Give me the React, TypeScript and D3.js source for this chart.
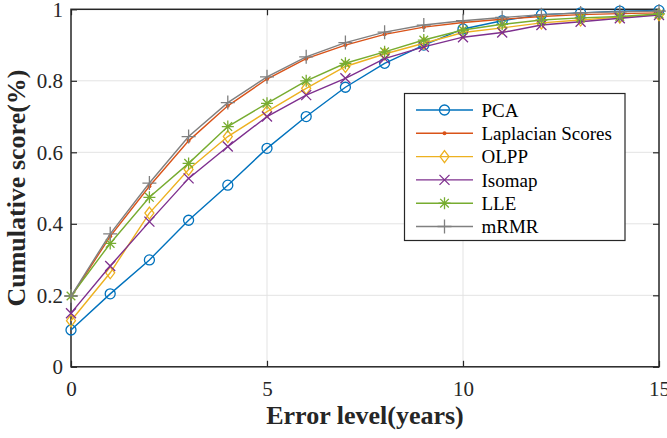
import React, { useEffect, useRef } from 'react';
import * as d3 from 'd3';

// error level (years) on the x axis
const errorLevels = [0, 1, 2, 3, 4, 5, 6, 7, 8, 9, 10, 11, 12, 13, 14, 15];

// cumulative score per method
const pcaScores = [0.103, 0.204, 0.299, 0.41, 0.508, 0.611, 0.7, 0.782, 0.849, 0.9, 0.945, 0.968, 0.985, 0.99, 0.995, 0.997];
const laplacianScores = [0.195, 0.365, 0.505, 0.632, 0.73, 0.805, 0.862, 0.9, 0.93, 0.95, 0.963, 0.972, 0.98, 0.985, 0.988, 0.99];
const olppScores = [0.129, 0.263, 0.43, 0.552, 0.644, 0.714, 0.779, 0.84, 0.875, 0.905, 0.935, 0.948, 0.962, 0.97, 0.978, 0.985];
const isomapScores = [0.15, 0.282, 0.406, 0.527, 0.616, 0.7, 0.76, 0.807, 0.862, 0.895, 0.922, 0.935, 0.956, 0.965, 0.975, 0.984];
const lleScores = [0.198, 0.345, 0.474, 0.569, 0.672, 0.737, 0.8, 0.849, 0.881, 0.914, 0.942, 0.958, 0.97, 0.976, 0.98, 0.987];
const mrmrScores = [0.198, 0.372, 0.514, 0.644, 0.739, 0.811, 0.867, 0.907, 0.936, 0.956, 0.968, 0.977, 0.985, 0.99, 0.993, 0.995];

const xTicks = [0, 5, 10, 15];
const yTicks = [0, 0.2, 0.4, 0.6, 0.8, 1];

const series = [
	{ name: 'PCA', values: pcaScores, color: '#0072BD', marker: 'circle' },
	{ name: 'Laplacian Scores', values: laplacianScores, color: '#D95319', marker: 'dot' },
	{ name: 'OLPP', values: olppScores, color: '#EDB120', marker: 'diamond' },
	{ name: 'Isomap', values: isomapScores, color: '#7E2F8E', marker: 'x' },
	{ name: 'LLE', values: lleScores, color: '#77AC30', marker: 'star' },
	{ name: 'mRMR', values: mrmrScores, color: '#808080', marker: 'plus' }
];

const FONT = '"Liberation Serif", "Times New Roman", serif';

function drawMarker(g: any, type: string, color: string) {
	if (type === 'circle') {
		g.append('circle').attr('r', 5).attr('fill', 'none').attr('stroke', color).attr('stroke-width', 1.3);
	} else if (type === 'dot') {
		g.append('circle').attr('r', 2).attr('fill', color);
	} else {
		var paths: any = {
			diamond: 'M0,-6L4.5,0L0,6L-4.5,0Z',
			x: 'M-5,-5L5,5M-5,5L5,-5',
			star: 'M-6,0H6M0,-6V6M-4.3,-4.3L4.3,4.3M-4.3,4.3L4.3,-4.3',
			plus: 'M-7,0H7M0,-7V7'
		};
		g.append('path').attr('d', paths[type]).attr('fill', 'none').attr('stroke', color).attr('stroke-width', 1.3);
	}
}

export default function App() {
	const ref = useRef<SVGSVGElement>(null);

	useEffect(() => {
		document.body.style.margin = '0';
		var width = 667;
		var height = 438;
		var margin = { top: 9.3, left: 71, right: 8, bottom: 71.2 };
		var innerW = width - margin.left - margin.right;
		var innerH = height - margin.top - margin.bottom;

		var svg = d3.select(ref.current);
		svg.selectAll('*').remove();

		var x = d3.scaleLinear().domain([0, 15]).range([0, innerW]);
		var y = d3.scaleLinear().domain([0, 1]).range([innerH, 0]);

		var g = svg.append('g').attr('transform', `translate(${margin.left},${margin.top})`);

		// grid
		g.selectAll('.gx')
			.data(xTicks.slice(1, -1))
			.enter()
			.append('line')
			.attr('x1', d => x(d)).attr('x2', d => x(d))
			.attr('y1', 0).attr('y2', innerH)
			.attr('stroke', '#e3e3e3').attr('stroke-width', 1);
		g.selectAll('.gy')
			.data(yTicks.slice(1, -1))
			.enter()
			.append('line')
			.attr('y1', d => y(d)).attr('y2', d => y(d))
			.attr('x1', 0).attr('x2', innerW)
			.attr('stroke', '#e3e3e3').attr('stroke-width', 1);

		// axes, ticks inward on all sides
		var styleAxis = (sel: any, labels: boolean) => {
			sel.select('.domain').remove();
			sel.selectAll('line').attr('stroke', '#262626').attr('stroke-width', 1.2);
			sel.selectAll('text')
				.attr('fill', '#262626')
				.style('font-family', FONT)
				.style('font-size', '21px');
			if (!labels) sel.selectAll('text').remove();
		};

		g.append('g')
			.attr('transform', `translate(0,${innerH})`)
			.call(d3.axisBottom(x).tickValues(xTicks).tickSize(-6).tickPadding(14).tickFormat(d3.format('d')))
			.call((s: any) => styleAxis(s, true));
		g.append('g')
			.call(d3.axisTop(x).tickValues(xTicks).tickSize(-6))
			.call((s: any) => styleAxis(s, false));
		g.append('g')
			.call(d3.axisLeft(y).tickValues(yTicks).tickSize(-6).tickPadding(8).tickFormat(d => String(d)))
			.call((s: any) => styleAxis(s, true));
		g.append('g')
			.attr('transform', `translate(${innerW},0)`)
			.call(d3.axisRight(y).tickValues(yTicks).tickSize(-6))
			.call((s: any) => styleAxis(s, false));

		g.append('rect')
			.attr('width', innerW).attr('height', innerH)
			.attr('fill', 'none').attr('stroke', '#262626').attr('stroke-width', 1.5);

		// lines + markers
		var line = d3.line<number>()
			.x((d, i) => x(errorLevels[i]))
			.y(d => y(d));

		series.forEach(s => {
			g.append('path')
				.datum(s.values)
				.attr('d', line)
				.attr('fill', 'none')
				.attr('stroke', s.color)
				.attr('stroke-width', 1.4);
			s.values.forEach((v, i) => {
				var m = g.append('g').attr('transform', `translate(${x(errorLevels[i])},${y(v)})`);
				drawMarker(m, s.marker, s.color);
			});
		});

		// legend
		var legend = svg.append('g').attr('transform', 'translate(404.5,93.5)');
		legend.append('rect')
			.attr('width', 220.5).attr('height', 147)
			.attr('fill', 'white').attr('stroke', '#262626').attr('stroke-width', 1.2);
		series.forEach((s, i) => {
			var row = legend.append('g').attr('transform', `translate(0,${16.5 + i * 23.3})`);
			row.append('line')
				.attr('x1', 11.5).attr('x2', 68.5)
				.attr('stroke', s.color).attr('stroke-width', 1.4);
			var m = row.append('g').attr('transform', 'translate(40,0)');
			drawMarker(m, s.marker, s.color);
			row.append('text')
				.attr('x', 77)
				.attr('dy', '0.35em')
				.style('font-family', FONT)
				.style('font-size', '19px')
				.attr('fill', '#000')
				.text(s.name);
		});

		// axis titles
		svg.append('text')
			.attr('x', margin.left + innerW / 2)
			.attr('y', 424)
			.attr('text-anchor', 'middle')
			.style('font-family', FONT)
			.style('font-size', '26px')
			.style('font-weight', 'bold')
			.attr('fill', '#262626')
			.text('Error level(years)');
		svg.append('text')
			.attr('transform', `translate(25,${margin.top + innerH / 2}) rotate(-90)`)
			.attr('text-anchor', 'middle')
			.style('font-family', FONT)
			.style('font-size', '26px')
			.style('font-weight', 'bold')
			.attr('fill', '#262626')
			.text('Cumulative score(%)');
	}, []);

	return <svg ref={ref} width={667} height={438} style={{ display: 'block', background: '#fff' }} />;
}
